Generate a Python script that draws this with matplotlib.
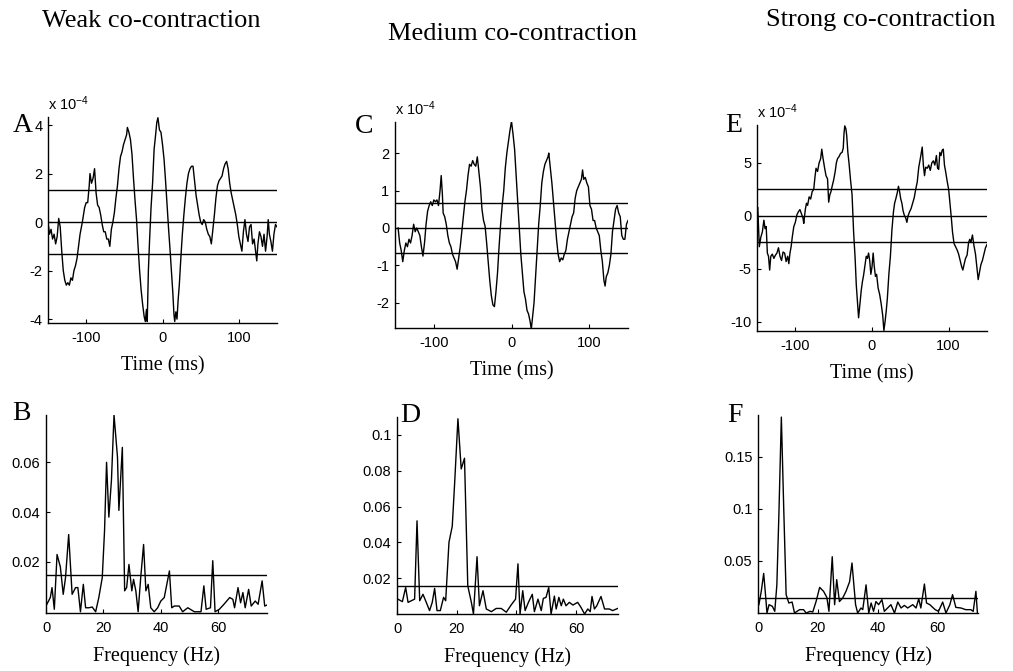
import matplotlib
matplotlib.use('Agg')
import matplotlib.pyplot as plt

W, H = 1013, 671

# cross-correlation, time in ms, value in units of 1e-4
weak_t = [-150, -148, -146, -144, -142, -140, -138, -136, -134, -132, -130, -128, -126, -124, -122, -120, -118, -116, -114, -112,
          -110, -108, -105, -102, -100, -98, -96, -95, -93, -91, -89, -87, -85, -83, -81, -79, -77, -75, -73, -71,
          -69, -67, -65, -63, -61, -59, -57, -55, -53, -51, -49, -47, -46, -44, -42, -40, -38, -36, -34, -32,
          -30, -28, -26, -24, -22.5, -21, -20, -18.5, -17, -15, -13, -11, -9, -7.5, -6, -4, -2, 0, 2, 4,
          6, 8, 10, 12, 13.5, 15, 16, 17.5, 19, 20.5, 22, 24, 26, 28, 30, 32, 34, 36, 38, 40,
          42, 44, 46, 48, 50, 52, 54, 56, 58, 60, 62, 64, 66, 68, 70, 72, 74, 76, 78, 80,
          82, 84, 86, 88, 90, 92, 94, 96, 98, 100, 102, 104, 106, 108, 110, 112, 114, 116, 118, 120,
          122, 123.5, 125, 127, 129, 131, 133, 135, 137, 138.5, 140, 142, 144, 146, 148, 150]
weak_v = [0.0, -0.5, -0.3, -0.7, -0.5, -0.9, -0.6, 0.15, -0.2, -1.2, -2.0, -2.4, -2.6, -2.5, -2.6, -2.3, -2.4, -2.0, -1.8, -1.5,
          -1.0, -0.5, 0.0, 0.6, 0.8, 0.8, 1.5, 2.0, 1.6, 1.8, 2.2, 1.2, 0.7, 0.6, 0.3, -0.1, -0.4, -0.4, -0.7, -0.7,
          -1.0, -0.3, 0.0, 0.4, 1.0, 1.5, 2.2, 2.7, 2.9, 3.2, 3.4, 3.6, 3.9, 3.7, 3.4, 2.8, 1.8, 0.9, 0.1, -1.0,
          -2.0, -2.8, -3.4, -3.9, -4.1, -3.6, -4.1, -2.0, -0.8, 0.6, 1.6, 3.0, 3.6, 4.1, 4.3, 3.8, 3.7, 3.2, 2.6, 1.7,
          0.7, -0.3, -1.2, -2.2, -2.9, -3.8, -4.1, -3.7, -4.0, -3.2, -2.6, -1.5, -0.5, 0.3, 1.0, 1.6, 2.0, 2.2, 2.3, 2.3,
          1.7, 1.1, 0.7, 0.3, 0.0, -0.1, 0.1, 0.0, -0.3, -0.5, -0.6, -0.9, -0.3, 0.3, 1.0, 1.5, 1.7, 1.8, 1.9, 2.2,
          2.4, 2.5, 2.2, 1.6, 1.2, 0.9, 0.6, 0.3, -0.1, -0.6, -0.9, -1.2, -0.4, 0.1, -0.5, -0.8, -0.2, -0.1, -0.9, -0.7,
          -1.2, -1.6, -0.9, -0.4, -0.6, -1.0, -0.5, -1.2, -0.6, 0.1, -0.5, -0.8, -1.2, -0.5, -0.1, -0.2]

medium_t = [-146, -144, -142, -140, -138, -136, -134, -132, -130, -128, -126, -124, -122, -120, -118, -116, -114, -112, -110, -108,
            -106, -104, -102, -100, -98, -96, -94, -92, -90.5, -89, -88, -86, -84, -82, -80, -78, -76, -74, -72, -70,
            -68, -66, -64, -62, -60, -58, -56, -54, -52, -50, -48, -46, -44, -42, -40, -38, -36, -34, -32, -30,
            -28, -26, -24, -22, -20, -18, -16, -14, -12, -10, -8, -6, -4, -2, 0, 2, 4, 6, 8, 10,
            12, 14, 16, 18, 20, 22, 24, 25.5, 27, 29, 31, 33, 35, 37, 39, 41, 43, 45, 47, 48,
            50, 52, 54, 56, 58, 60, 62, 64, 66, 68, 70, 72, 74, 76, 78, 80, 82, 84, 86, 88,
            90, 91.5, 93, 95, 97, 99, 101, 103, 105, 107, 109, 111, 113, 115, 117, 119, 120.5, 122, 124, 126,
            128, 130, 132, 134, 136, 138, 140, 142, 144, 146, 148, 150]
medium_v = [0.0, -0.4, -0.6, -0.9, -0.6, -0.4, -0.5, -0.3, -0.4, -0.2, 0.1, -0.1, 0.0, -0.1, -0.2, -0.5, -0.75, -0.4, 0.1, 0.45,
            0.6, 0.7, 0.6, 0.75, 0.7, 0.75, 0.6, 1.0, 1.4, 0.9, 0.4, 0.3, 0.1, -0.2, -0.4, -0.5, -0.7, -0.8, -0.9, -1.1,
            -0.8, -0.5, -0.1, 0.3, 0.7, 1.0, 1.4, 1.7, 1.65, 1.8, 1.7, 1.65, 1.9, 1.5, 1.1, 0.5, 0.2, 0.05, -0.4, -0.9,
            -1.4, -1.8, -2.05, -2.1, -1.7, -1.2, -0.5, 0.1, 0.6, 1.0, 1.6, 2.0, 2.3, 2.6, 2.85, 2.5, 2.1, 1.4, 0.7, 0.0,
            -0.7, -1.2, -1.7, -1.9, -2.2, -2.3, -2.5, -2.7, -2.4, -2.0, -1.3, -0.6, 0.1, 0.6, 1.2, 1.5, 1.7, 1.8, 1.9, 2.0,
            1.6, 1.2, 0.7, 0.2, -0.3, -0.7, -0.9, -0.8, -0.85, -0.7, -0.6, -0.3, -0.1, 0.1, 0.3, 0.4, 0.8, 1.0, 1.1, 1.2,
            1.3, 1.55, 1.3, 1.35, 1.2, 1.1, 0.6, 0.5, 0.2, 0.2, 0.0, -0.1, -0.2, -0.6, -0.9, -1.4, -1.55, -1.3, -1.2, -1.0,
            -0.7, -0.1, 0.2, 0.5, 0.6, 0.4, 0.3, -0.2, -0.3, -0.3, 0.1, 0.2]

strong_t = [-150, -149, -147, -145, -143, -141, -139.5, -138, -136.5, -135, -133.5, -132, -130, -128, -126, -124, -122, -120, -118, -116,
            -114, -112, -110, -108.5, -107, -105.5, -104, -102, -100, -98, -96, -94, -92, -90, -89, -87, -85.5, -84, -82, -80,
            -78, -76, -74.5, -73, -71, -69, -67, -65.5, -64, -62, -60, -58, -56.5, -55, -53.5, -52, -50, -48, -46.5, -45,
            -43, -41, -39, -37.5, -36.5, -35.5, -34, -33, -31.5, -30, -28, -26, -24, -22, -20.5, -19, -17.5, -16, -14, -12.5,
            -11, -9, -7.5, -6, -4.5, -3, -1.5, 0, 1.5, 3, 4.5, 6, 8, 10, 12, 14, 15.5, 17, 18.5, 20,
            22, 24, 26, 28, 29.5, 31, 33, 34.5, 36, 37.5, 39, 40.5, 42, 44, 45.5, 47, 49, 51, 53, 55,
            57, 59, 61, 63, 65.5, 67, 68.5, 70, 72, 74, 76, 78, 80, 82, 84, 85.5, 87, 88.5, 90, 91.5,
            93, 94.5, 96, 98, 100, 102, 103.5, 105, 107, 109, 111, 113, 115, 117, 118.5, 120, 122, 124, 126, 127.5,
            129, 131, 133, 135, 137, 138.5, 140, 142, 144, 146, 148, 150]
strong_v = [0.6, 0.8, -2.9, -2.0, -1.5, -0.4, -1.2, -1.0, -3.5, -3.8, -5.1, -3.8, -3.6, -4.0, -3.7, -3.5, -3.0, -3.8, -4.2, -3.4,
            -3.5, -4.3, -3.8, -4.5, -3.5, -2.9, -2.0, -1.0, -0.6, 0.1, 0.4, 0.6, 0.2, -0.2, -0.7, 0.6, 1.2, 1.0, 1.8, 1.6,
            2.3, 2.5, 3.6, 4.5, 4.2, 5.0, 5.4, 6.3, 5.5, 4.6, 3.8, 3.5, 1.3, 2.0, 2.3, 2.8, 3.4, 4.2, 5.0, 5.4,
            5.6, 5.9, 6.0, 6.4, 7.8, 8.5, 8.2, 7.6, 6.0, 5.0, 3.4, 2.0, -1.5, -4.0, -6.5, -8.0, -9.6, -8.5, -7.0, -6.2,
            -5.6, -4.6, -3.8, -4.0, -3.5, -4.2, -5.5, -4.8, -3.5, -4.8, -5.7, -5.5, -6.8, -7.4, -8.3, -9.4, -10.8, -10.0, -9.0, -7.8,
            -5.5, -3.8, -1.3, 0.4, 1.2, 1.6, 2.2, 2.8, 2.3, 1.6, 1.2, 0.5, 0.1, -0.2, -0.6, 0.0, 0.4, 0.7, 1.2, 1.7,
            2.5, 3.2, 4.6, 5.4, 6.5, 4.8, 3.8, 4.6, 4.5, 4.8, 4.3, 5.0, 5.2, 4.8, 5.7, 4.5, 4.4, 6.0, 5.7, 6.2,
            6.3, 4.8, 4.2, 3.3, 2.5, 1.0, -0.2, -1.5, -2.6, -2.9, -3.2, -3.6, -4.2, -4.8, -5.1, -4.6, -4.0, -3.7, -2.5, -2.2,
            -2.5, -1.8, -2.8, -3.6, -5.0, -6.0, -5.4, -4.6, -4.2, -3.6, -3.0, -2.7]

# significance bands (x 1e-4)
weak_band, medium_band, strong_band = 1.32, 0.68, 2.5

# coherence spectra
weak_f = [0.3, 1.5, 2.1, 2.9, 3.85, 5, 6, 6.8, 7.9, 9.1, 10.3, 11.1, 12, 13, 13.8, 14.9, 16.1, 17.3, 18.4, 19.6,
          20.4, 21.1, 21.9, 22.8, 23.7, 24.9, 25.4, 26.6, 27.4, 28.1, 28.9, 29.9, 30.5, 31.3, 32.1, 33, 34, 34.8, 35.6, 36.5,
          37.7, 38.9, 40, 41.2, 43, 43.8, 44.7, 46.4, 47.6, 49.4, 51.7, 54, 55, 55.8, 57.3, 58.1, 58.9, 60.4, 62, 64,
          65.1, 65.7, 66.9, 67.8, 68.6, 69.4, 70.6, 71.5, 72.9, 73.9, 75.3, 76.2, 77]
weak_p = [0.003, 0.0057, 0.0097, 0.001, 0.023, 0.018, 0.007, 0.0137, 0.031, 0.007, 0.0097, 0.0097, 0.0, 0.011, 0.0016, 0.0016, 0.0019, 0.0, 0.0057, 0.0137,
          0.0326, 0.06, 0.038, 0.0528, 0.079, 0.0622, 0.0407, 0.066, 0.0084, 0.0097, 0.019, 0.0084, 0.013, 0.0084, 0.0, 0.0137, 0.027, 0.0084, 0.011, 0.0016,
          0.0, 0.0016, 0.0043, 0.0057, 0.0164, 0.0016, 0.0023, 0.0023, 0.0, 0.0016, 0.0, 0.0, 0.0104, 0.001, 0.0016, 0.0205, 0.0, 0.001, 0.003, 0.0057,
          0.005, 0.0016, 0.0097, 0.0036, 0.0077, 0.0016, 0.009, 0.0023, 0.0043, 0.003, 0.0124, 0.0023, 0.0027]

medium_f = [0.3, 1.8, 2.9, 3.7, 4.8, 5.9, 6.7, 7.6, 8.7, 9.8, 10.9, 11.8, 12.6, 13.4, 14.5, 15.6, 16.3, 17.4, 18.5, 19.3,
            20.4, 21.5, 22.6, 23.7, 24.9, 25.6, 26.8, 27.6, 28.8, 29.9, 31.6, 33.2, 34.9, 36.6, 38.2, 39.7, 40.5, 41.2, 42.1, 42.9,
            44, 45.3, 46, 47.2, 48.3, 49, 49.9, 50.8, 51.6, 52.7, 53.3, 54.2, 55, 55.7, 56.6, 57.7, 58.9, 60.5, 61.6, 62.8,
            63.9, 64.7, 65.3, 66.1, 66.9, 68.3, 69.5, 71.1, 72.2, 73.9]
medium_p = [0.0083, 0.0069, 0.0148, 0.0065, 0.0074, 0.0083, 0.052, 0.0074, 0.011, 0.0065, 0.0019, 0.0065, 0.0143, 0.0019, 0.0019, 0.0093, 0.0074, 0.04, 0.049, 0.073,
            0.109, 0.081, 0.087, 0.0157, 0.0065, 0.0, 0.032, 0.0046, 0.013, 0.0028, 0.0013, 0.0031, 0.0031, 0.001, 0.005, 0.0083, 0.028, 0.0, 0.013, 0.0019,
            0.0065, 0.011, 0.0013, 0.0083, 0.0019, 0.0087, 0.0093, 0.0148, 0.0, 0.01, 0.0028, 0.0093, 0.0046, 0.0083, 0.0046, 0.0065, 0.005, 0.0065, 0.0037, 0.0,
            0.0028, 0.0013, 0.0098, 0.0028, 0.0046, 0.0098, 0.0028, 0.0028, 0.0019, 0.0031]

strong_f = [0.3, 1.1, 1.9, 2.6, 3, 3.7, 4.8, 5.6, 6.3, 7, 7.8, 8.6, 9.4, 10.3, 11.4, 12.2, 13.9, 15.2, 16.1, 17.4,
            18.3, 19.4, 20.6, 21.9, 23, 23.7, 24.8, 25.6, 26.3, 27.2, 28.3, 29.4, 30.6, 31.4, 32.6, 33.3, 34.4, 35, 36.1, 37,
            37.8, 38.6, 39.4, 40.3, 41.4, 42.2, 43.3, 44.4, 45.6, 46.7, 47.8, 48.9, 50, 51.7, 52.8, 53.7, 54.4, 55.6, 56.3, 57.4,
            59.2, 60.3, 61.7, 62.8, 64.1, 65, 66.1, 67.8, 69.4, 71.1, 71.9, 72.8, 73.3]
strong_p = [0.008, 0.021, 0.038, 0.0144, 0.0, 0.008, 0.0064, 0.0016, 0.027, 0.097, 0.188, 0.1, 0.0176, 0.0096, 0.0105, 0.0, 0.0032, 0.0032, 0.0, 0.0016,
            0.001, 0.011, 0.0246, 0.0208, 0.015, 0.0016, 0.054, 0.008, 0.032, 0.011, 0.0144, 0.0208, 0.03, 0.048, 0.008, 0.0, 0.0048, 0.0032, 0.027, 0.0,
            0.0096, 0.0016, 0.011, 0.008, 0.0128, 0.0016, 0.0048, 0.008, 0.0, 0.0105, 0.0048, 0.0073, 0.0048, 0.008, 0.0048, 0.0137, 0.0048, 0.0278, 0.0096, 0.008,
            0.0032, 0.0016, 0.0105, 0.0, 0.008, 0.0176, 0.0054, 0.0048, 0.0032, 0.0032, 0.0016, 0.0208, 0.0]

weak_level, medium_level, strong_level = 0.0148, 0.0157, 0.0145

titles = ['Weak co-contraction', 'Medium co-contraction', 'Strong co-contraction']

plt.rcParams['font.family'] = 'Liberation Sans'
plt.rcParams['axes.unicode_minus'] = False
plt.rcParams['mathtext.fontset'] = 'custom'
plt.rcParams['mathtext.rm'] = 'Liberation Sans'
plt.rcParams['mathtext.it'] = 'Liberation Sans'

SERIF = 'Liberation Serif'

fig = plt.figure(figsize=(W / 100, H / 100), dpi=100)


def px_axes(l, t, r, b):
    return fig.add_axes([l / W, 1 - b / H, (r - l) / W, (b - t) / H])


def style(ax):
    for s in ('top', 'right'):
        ax.spines[s].set_visible(False)
    for s in ('left', 'bottom'):
        ax.spines[s].set_linewidth(1.0)
    ax.tick_params(direction='in', length=3, width=0.8, labelsize=10.5)
    ax.tick_params(axis='x', pad=6)
    ax.tick_params(axis='y', pad=4)


def corr_panel(rect, t, v, band, ylim, yticks):
    ax = px_axes(*rect)
    ax.plot(t, v, color='k', lw=1.0)
    for y in (band, 0, -band):
        ax.axhline(y, color='k', lw=1.0)
    ax.set_xlim(-150, 150)
    ax.set_ylim(*ylim)
    ax.set_xticks([-100, 0, 100])
    ax.set_yticks(yticks)
    ax.set_yticklabels([str(y) for y in yticks])
    ax.set_xlabel('Time (ms)', fontfamily=SERIF, fontsize=14.5, labelpad=7.5)
    ax.text(0.0, 1.02, r'x 10$^{-4}$', transform=ax.transAxes, fontsize=10.5, ha='left', va='bottom')
    style(ax)
    return ax


def spec_panel(rect, f, p, level, xlim, ylim, yticks, ylabels):
    ax = px_axes(*rect)
    ax.plot(f, p, color='k', lw=1.0)
    ax.axhline(level, color='k', lw=1.0)
    ax.set_xlim(*xlim)
    ax.set_ylim(*ylim)
    ax.set_xticks([0, 20, 40, 60])
    ax.set_yticks(yticks)
    ax.set_yticklabels(ylabels)
    ax.set_xlabel('Frequency (Hz)', fontfamily=SERIF, fontsize=14.5, labelpad=8)
    style(ax)
    return ax


corr_panel((48, 117, 277, 323), weak_t, weak_v, weak_band, (-4.16, 4.33), [-4, -2, 0, 2, 4])
corr_panel((395, 122, 628, 328), medium_t, medium_v, medium_band, (-2.67, 2.83), [-2, -1, 0, 1, 2])
corr_panel((757, 125, 987, 331), strong_t, strong_v, strong_band, (-10.85, 8.58), [-10, -5, 0, 5])

spec_panel((46, 415, 267, 613), weak_f, weak_p, weak_level, (0, 77), (-0.0005, 0.079),
           [0.02, 0.04, 0.06], ['0.02', '0.04', '0.06'])
spec_panel((397, 417, 618, 614), medium_f, medium_p, medium_level, (0, 74), (0, 0.11),
           [0.02, 0.04, 0.06, 0.08, 0.1], ['0.02', '0.04', '0.06', '0.08', '0.1'])
spec_panel((758, 415, 978, 613), strong_f, strong_p, strong_level, (0, 73.5), (0, 0.19),
           [0.05, 0.1, 0.15], ['0.05', '0.1', '0.15'])

# column titles
for x, y, s in zip([151, 512, 881], [27, 40, 26], titles):
    fig.text(x / W, 1 - y / H, s, fontfamily=SERIF, fontsize=19, ha='center', va='baseline')

# panel letters
for x, y, s in [(13, 132, 'A'), (12, 420, 'B'), (355, 133, 'C'), (400, 422, 'D'), (725, 132, 'E'), (727, 422, 'F')]:
    fig.text(x / W, 1 - y / H, s, fontfamily=SERIF, fontsize=20, ha='left', va='baseline')

fig.savefig('out.png', dpi=100)
